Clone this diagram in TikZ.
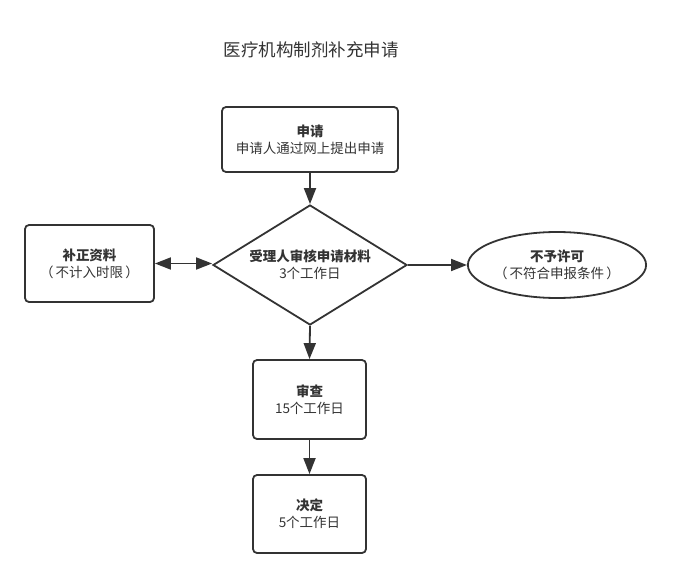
\documentclass[tikz,border=0pt]{standalone}
\usepackage{fontspec}
\setmainfont{Noto Sans CJK SC}
\usetikzlibrary{arrows.meta,shapes.geometric}
\definecolor{ink}{HTML}{333333}
\tikzset{
  box/.style={draw=ink, line width=1.8pt, rounded corners=4pt, fill=white, inner sep=0pt, align=center, text=ink, font=\fontsize{13.5}{17}\selectfont},
  conn/.style={draw=ink, line width=1.8pt, -{Triangle[length=16pt,width=12pt]}},
  dconn/.style={draw=ink, line width=1.8pt, {Triangle[length=16pt,width=12pt]}-{Triangle[length=16pt,width=12pt]}}
}
\begin{document}
\begin{tikzpicture}[x=1pt,y=-1pt]
\useasboundingbox (0,0) rectangle (673,578);
\node[text=ink, font=\fontsize{17.5}{20}\selectfont] (title) at (311,50) {医疗机构制剂补充申请};
\node[box, minimum width=176pt, minimum height=65pt, text depth=-2pt] (apply) at (310,139.5) {\textbf{申请}\\申请人通过网上提出申请};
\node[box, rounded corners=0pt, diamond, aspect=1.617, minimum width=194pt, minimum height=120pt] (check) at (310,265) {\textbf{受理人审核申请材料}\\3个工作日};
\node[box, minimum width=129pt, minimum height=77pt] (fix) at (89.5,263.5) {\textbf{补正资料}\\（\,不计入时限\,）};
\node[box, ellipse, minimum width=176pt, minimum height=66pt] (deny) at (557,265) {\textbf{不予许可}\\（\,不符合申报条件\,）};
\node[box, minimum width=113pt, minimum height=79pt] (review) at (309.5,399.5) {\textbf{审查}\\15个工作日};
\node[box, minimum width=113pt, minimum height=78pt] (decide) at (309.5,514) {\textbf{决定}\\5个工作日};
\draw[conn] (apply.south) -- (check.north);
\draw[dconn] (fix.east) -- (fix.east -| check.west);
\draw[conn] (check.east) -- (check.east -| deny.west);
\draw[conn] (check.south) -- (review.north);
\draw[conn] (review.south) -- (decide.north);
\end{tikzpicture}
\end{document}
